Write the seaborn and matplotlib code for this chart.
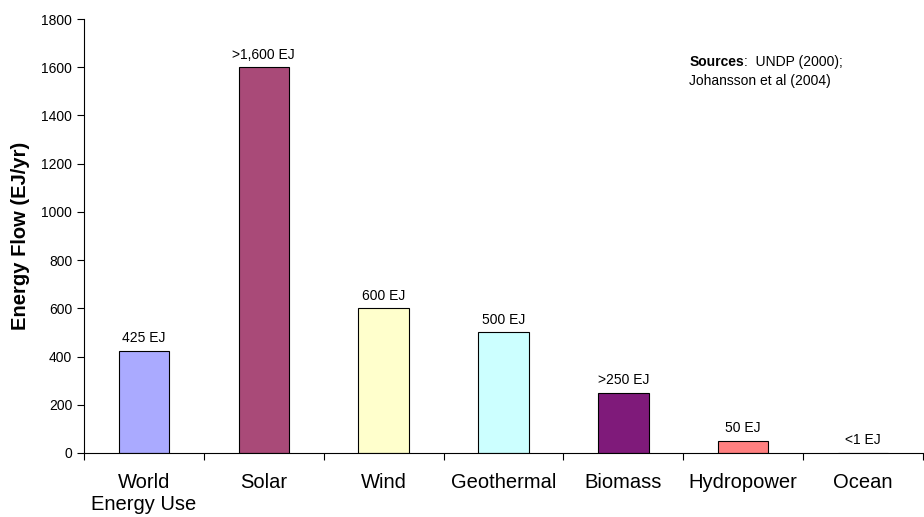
import numpy as np
import pandas as pd
import seaborn as sns
import matplotlib.pyplot as plt
from matplotlib.ticker import FixedLocator

# chart data
sources = ["World\nEnergy Use", "Solar", "Wind", "Geothermal", "Biomass", "Hydropower", "Ocean"]
flows = [425, 1600, 600, 500, 250, 50, 1]
labels = ["425 EJ", ">1,600 EJ", "600 EJ", "500 EJ", ">250 EJ", "50 EJ", "<1 EJ"]
colors = ["#AAAAFF", "#A94A78", "#FFFFCC", "#CCFFFF", "#7F1A7A", "#FF8080", "#6666CC"]

df = pd.DataFrame({"source": sources, "flow": flows})

sns.set_style("white")
plt.rcParams['font.family'] = ['Liberation Sans', 'DejaVu Sans']
plt.rcParams['text.color'] = 'black'
plt.rcParams['axes.labelcolor'] = 'black'
plt.rcParams['xtick.color'] = 'black'
plt.rcParams['ytick.color'] = 'black'

fig = plt.figure(figsize=(9.24, 5.17), dpi=100)
ax = fig.add_axes([0.0909, 0.1238, 0.908, 0.8394])

sns.barplot(data=df, x="source", y="flow", hue="source", palette=colors, saturation=1,
            width=0.42, edgecolor="black", linewidth=0.8, legend=False, ax=ax)

# value labels above bars
for i, (v, t) in enumerate(zip(flows, labels)):
    ax.annotate(t, (i, v), xytext=(0, 4), textcoords="offset points",
                ha="center", va="bottom", fontsize=10)

ax.set_ylim(0, 1800)
ax.set_xlim(-0.5, 6.5)
ax.set_yticks(np.arange(0, 1801, 200))
ax.set_xlabel("")
ax.set_ylabel("Energy Flow (EJ/yr)", fontsize=14.5, fontweight="bold", labelpad=8)

for s in ["top", "right"]:
    ax.spines[s].set_visible(False)
for s in ["left", "bottom"]:
    ax.spines[s].set_color("black")
    ax.spines[s].set_linewidth(0.8)

ax.tick_params(axis="y", which="major", left=True, length=5, width=0.8, labelsize=10)
ax.tick_params(axis="x", which="major", bottom=False, labelsize=14.5, pad=11)
ax.xaxis.set_minor_locator(FixedLocator(np.arange(-0.5, 6.6, 1)))
ax.tick_params(axis="x", which="minor", bottom=True, length=5, width=0.8)

# sources note
t1 = fig.text(0.746, 0.872, "Sources", fontsize=10, fontweight="bold", va="baseline")
ax.annotate(":  UNDP (2000);", xy=(1, 0), xycoords=t1, fontsize=10, va="bottom", ha="left")
fig.text(0.746, 0.835, "Johansson et al (2004)", fontsize=10, va="baseline")

fig.savefig("out.png", dpi=100)
